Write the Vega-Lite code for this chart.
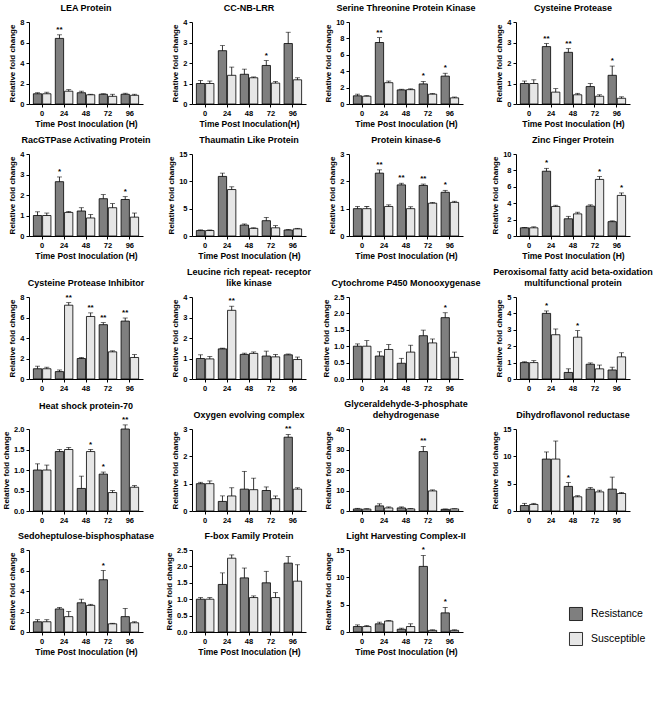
{
"$schema":"https://vega.github.io/schema/vega-lite/v6.json",
"padding":{"left":2,"right":2,"top":4,"bottom":4},
"datasets":{"d":[
{"g":1,"t":"0","s":"Resistance","v":1.0,"hi":1.1},{"g":1,"t":"0","s":"Susceptible","v":1.0,"hi":1.15},{"g":1,"t":"24","s":"Resistance","v":6.4,"hi":6.75,"sig":"**"},{"g":1,"t":"24","s":"Susceptible","v":1.25,"hi":1.4},{"g":1,"t":"48","s":"Resistance","v":1.1,"hi":1.25},{"g":1,"t":"48","s":"Susceptible","v":0.9,"hi":0.95},{"g":1,"t":"72","s":"Resistance","v":0.95,"hi":1.0},{"g":1,"t":"72","s":"Susceptible","v":0.75,"hi":0.95},{"g":1,"t":"96","s":"Resistance","v":0.95,"hi":1.05},{"g":1,"t":"96","s":"Susceptible","v":0.85,"hi":0.95},
{"g":2,"t":"0","s":"Resistance","v":1.0,"hi":1.15},{"g":2,"t":"0","s":"Susceptible","v":1.0,"hi":1.12},{"g":2,"t":"24","s":"Resistance","v":2.6,"hi":2.85},{"g":2,"t":"24","s":"Susceptible","v":1.4,"hi":1.8},{"g":2,"t":"48","s":"Resistance","v":1.45,"hi":1.7},{"g":2,"t":"48","s":"Susceptible","v":1.28,"hi":1.32},{"g":2,"t":"72","s":"Resistance","v":1.88,"hi":2.12,"sig":"*"},{"g":2,"t":"72","s":"Susceptible","v":1.02,"hi":1.1},{"g":2,"t":"96","s":"Resistance","v":2.95,"hi":3.5},{"g":2,"t":"96","s":"Susceptible","v":1.18,"hi":1.28},
{"g":3,"t":"0","s":"Resistance","v":1.0,"hi":1.2},{"g":3,"t":"0","s":"Susceptible","v":0.95,"hi":1.02},{"g":3,"t":"24","s":"Resistance","v":7.5,"hi":8.1,"sig":"**"},{"g":3,"t":"24","s":"Susceptible","v":2.6,"hi":2.8},{"g":3,"t":"48","s":"Resistance","v":1.72,"hi":1.8},{"g":3,"t":"48","s":"Susceptible","v":1.75,"hi":1.85},{"g":3,"t":"72","s":"Resistance","v":2.45,"hi":2.75,"sig":"*"},{"g":3,"t":"72","s":"Susceptible","v":1.2,"hi":1.28},{"g":3,"t":"96","s":"Resistance","v":3.4,"hi":3.75,"sig":"*"},{"g":3,"t":"96","s":"Susceptible","v":0.75,"hi":0.85},
{"g":4,"t":"0","s":"Resistance","v":1.0,"hi":1.12},{"g":4,"t":"0","s":"Susceptible","v":1.0,"hi":1.18},{"g":4,"t":"24","s":"Resistance","v":2.8,"hi":2.95,"sig":"**"},{"g":4,"t":"24","s":"Susceptible","v":0.58,"hi":0.75},{"g":4,"t":"48","s":"Resistance","v":2.52,"hi":2.7,"sig":"**"},{"g":4,"t":"48","s":"Susceptible","v":0.45,"hi":0.52},{"g":4,"t":"72","s":"Resistance","v":0.85,"hi":1.0},{"g":4,"t":"72","s":"Susceptible","v":0.38,"hi":0.45},{"g":4,"t":"96","s":"Resistance","v":1.4,"hi":1.85,"sig":"*"},{"g":4,"t":"96","s":"Susceptible","v":0.28,"hi":0.35},
{"g":5,"t":"0","s":"Resistance","v":1.0,"hi":1.18},{"g":5,"t":"0","s":"Susceptible","v":1.0,"hi":1.12},{"g":5,"t":"24","s":"Resistance","v":2.65,"hi":2.88,"sig":"*"},{"g":5,"t":"24","s":"Susceptible","v":1.15,"hi":1.2},{"g":5,"t":"48","s":"Resistance","v":1.22,"hi":1.38},{"g":5,"t":"48","s":"Susceptible","v":0.88,"hi":1.05},{"g":5,"t":"72","s":"Resistance","v":1.82,"hi":2.02},{"g":5,"t":"72","s":"Susceptible","v":1.38,"hi":1.58},{"g":5,"t":"96","s":"Resistance","v":1.78,"hi":1.92,"sig":"*"},{"g":5,"t":"96","s":"Susceptible","v":0.92,"hi":1.12},
{"g":6,"t":"0","s":"Resistance","v":1.0,"hi":1.12},{"g":6,"t":"0","s":"Susceptible","v":1.0,"hi":1.1},{"g":6,"t":"24","s":"Resistance","v":10.9,"hi":11.5},{"g":6,"t":"24","s":"Susceptible","v":8.5,"hi":9.0},{"g":6,"t":"48","s":"Resistance","v":2.0,"hi":2.2},{"g":6,"t":"48","s":"Susceptible","v":1.4,"hi":1.5},{"g":6,"t":"72","s":"Resistance","v":2.8,"hi":3.4},{"g":6,"t":"72","s":"Susceptible","v":1.5,"hi":1.9},{"g":6,"t":"96","s":"Resistance","v":1.1,"hi":1.2},{"g":6,"t":"96","s":"Susceptible","v":1.3,"hi":1.4},
{"g":7,"t":"0","s":"Resistance","v":1.0,"hi":1.08},{"g":7,"t":"0","s":"Susceptible","v":1.0,"hi":1.08},{"g":7,"t":"24","s":"Resistance","v":2.3,"hi":2.42,"sig":"**"},{"g":7,"t":"24","s":"Susceptible","v":1.08,"hi":1.14},{"g":7,"t":"48","s":"Resistance","v":1.87,"hi":1.93,"sig":"**"},{"g":7,"t":"48","s":"Susceptible","v":1.0,"hi":1.07},{"g":7,"t":"72","s":"Resistance","v":1.85,"hi":1.9,"sig":"**"},{"g":7,"t":"72","s":"Susceptible","v":1.2,"hi":1.23},{"g":7,"t":"96","s":"Resistance","v":1.6,"hi":1.67,"sig":"*"},{"g":7,"t":"96","s":"Susceptible","v":1.23,"hi":1.27},
{"g":8,"t":"0","s":"Resistance","v":1.0,"hi":1.05},{"g":8,"t":"0","s":"Susceptible","v":1.0,"hi":1.12},{"g":8,"t":"24","s":"Resistance","v":7.9,"hi":8.25,"sig":"*"},{"g":8,"t":"24","s":"Susceptible","v":3.6,"hi":3.75},{"g":8,"t":"48","s":"Resistance","v":2.1,"hi":2.4},{"g":8,"t":"48","s":"Susceptible","v":2.7,"hi":2.9},{"g":8,"t":"72","s":"Resistance","v":3.65,"hi":3.8},{"g":8,"t":"72","s":"Susceptible","v":6.9,"hi":7.25,"sig":"*"},{"g":8,"t":"96","s":"Resistance","v":1.75,"hi":1.85},{"g":8,"t":"96","s":"Susceptible","v":4.95,"hi":5.25,"sig":"*"},
{"g":9,"t":"0","s":"Resistance","v":1.0,"hi":1.25},{"g":9,"t":"0","s":"Susceptible","v":1.0,"hi":1.15},{"g":9,"t":"24","s":"Resistance","v":0.72,"hi":0.88},{"g":9,"t":"24","s":"Susceptible","v":7.2,"hi":7.45,"sig":"**"},{"g":9,"t":"48","s":"Resistance","v":2.0,"hi":2.1},{"g":9,"t":"48","s":"Susceptible","v":6.1,"hi":6.45,"sig":"**"},{"g":9,"t":"72","s":"Resistance","v":5.3,"hi":5.5,"sig":"**"},{"g":9,"t":"72","s":"Susceptible","v":2.65,"hi":2.75},{"g":9,"t":"96","s":"Resistance","v":5.65,"hi":5.95,"sig":"**"},{"g":9,"t":"96","s":"Susceptible","v":2.1,"hi":2.38},
{"g":10,"t":"0","s":"Resistance","v":1.0,"hi":1.18},{"g":10,"t":"0","s":"Susceptible","v":0.98,"hi":1.1},{"g":10,"t":"24","s":"Resistance","v":1.47,"hi":1.5},{"g":10,"t":"24","s":"Susceptible","v":3.35,"hi":3.55,"sig":"**"},{"g":10,"t":"48","s":"Resistance","v":1.2,"hi":1.26},{"g":10,"t":"48","s":"Susceptible","v":1.25,"hi":1.32},{"g":10,"t":"72","s":"Resistance","v":1.12,"hi":1.36},{"g":10,"t":"72","s":"Susceptible","v":1.08,"hi":1.2},{"g":10,"t":"96","s":"Resistance","v":1.18,"hi":1.22},{"g":10,"t":"96","s":"Susceptible","v":0.95,"hi":1.07},
{"g":11,"t":"0","s":"Resistance","v":1.0,"hi":1.07},{"g":11,"t":"0","s":"Susceptible","v":1.0,"hi":1.17},{"g":11,"t":"24","s":"Resistance","v":0.7,"hi":0.83},{"g":11,"t":"24","s":"Susceptible","v":0.9,"hi":1.05},{"g":11,"t":"48","s":"Resistance","v":0.48,"hi":0.63},{"g":11,"t":"48","s":"Susceptible","v":0.82,"hi":1.03},{"g":11,"t":"72","s":"Resistance","v":1.32,"hi":1.49},{"g":11,"t":"72","s":"Susceptible","v":1.1,"hi":1.22},{"g":11,"t":"96","s":"Resistance","v":1.87,"hi":2.02,"sig":"*"},{"g":11,"t":"96","s":"Susceptible","v":0.66,"hi":0.82},
{"g":12,"t":"0","s":"Resistance","v":1.0,"hi":1.05},{"g":12,"t":"0","s":"Susceptible","v":1.0,"hi":1.12},{"g":12,"t":"24","s":"Resistance","v":4.0,"hi":4.15,"sig":"*"},{"g":12,"t":"24","s":"Susceptible","v":2.7,"hi":3.05},{"g":12,"t":"48","s":"Resistance","v":0.4,"hi":0.62},{"g":12,"t":"48","s":"Susceptible","v":2.55,"hi":2.95,"sig":"*"},{"g":12,"t":"72","s":"Resistance","v":0.9,"hi":0.98},{"g":12,"t":"72","s":"Susceptible","v":0.62,"hi":0.85},{"g":12,"t":"96","s":"Resistance","v":0.55,"hi":0.72},{"g":12,"t":"96","s":"Susceptible","v":1.35,"hi":1.6},
{"g":13,"t":"0","s":"Resistance","v":1.0,"hi":1.15},{"g":13,"t":"0","s":"Susceptible","v":1.0,"hi":1.12},{"g":13,"t":"24","s":"Resistance","v":1.45,"hi":1.5},{"g":13,"t":"24","s":"Susceptible","v":1.5,"hi":1.55},{"g":13,"t":"48","s":"Resistance","v":0.55,"hi":0.85},{"g":13,"t":"48","s":"Susceptible","v":1.45,"hi":1.5,"sig":"*"},{"g":13,"t":"72","s":"Resistance","v":0.9,"hi":0.95,"sig":"*"},{"g":13,"t":"72","s":"Susceptible","v":0.45,"hi":0.5},{"g":13,"t":"96","s":"Resistance","v":2.0,"hi":2.1,"sig":"**"},{"g":13,"t":"96","s":"Susceptible","v":0.58,"hi":0.62},
{"g":14,"t":"0","s":"Resistance","v":1.0,"hi":1.05},{"g":14,"t":"0","s":"Susceptible","v":1.0,"hi":1.1},{"g":14,"t":"24","s":"Resistance","v":0.35,"hi":0.55},{"g":14,"t":"24","s":"Susceptible","v":0.55,"hi":0.85},{"g":14,"t":"48","s":"Resistance","v":0.8,"hi":1.45},{"g":14,"t":"48","s":"Susceptible","v":0.78,"hi":1.2},{"g":14,"t":"72","s":"Resistance","v":0.75,"hi":0.88},{"g":14,"t":"72","s":"Susceptible","v":0.45,"hi":0.55},{"g":14,"t":"96","s":"Resistance","v":2.7,"hi":2.8,"sig":"**"},{"g":14,"t":"96","s":"Susceptible","v":0.8,"hi":0.85},
{"g":15,"t":"0","s":"Resistance","v":1.0,"hi":1.3},{"g":15,"t":"0","s":"Susceptible","v":0.9,"hi":1.1},{"g":15,"t":"24","s":"Resistance","v":2.5,"hi":3.5},{"g":15,"t":"24","s":"Susceptible","v":1.5,"hi":2.0},{"g":15,"t":"48","s":"Resistance","v":1.5,"hi":2.0},{"g":15,"t":"48","s":"Susceptible","v":1.0,"hi":1.2},{"g":15,"t":"72","s":"Resistance","v":29,"hi":31.5,"sig":"**"},{"g":15,"t":"72","s":"Susceptible","v":9.8,"hi":10.3},{"g":15,"t":"96","s":"Resistance","v":0.8,"hi":1.0},{"g":15,"t":"96","s":"Susceptible","v":1.0,"hi":1.1},
{"g":16,"t":"0","s":"Resistance","v":1.0,"hi":1.4},{"g":16,"t":"0","s":"Susceptible","v":1.2,"hi":1.4},{"g":16,"t":"24","s":"Resistance","v":9.5,"hi":10.8},{"g":16,"t":"24","s":"Susceptible","v":9.5,"hi":12.8},{"g":16,"t":"48","s":"Resistance","v":4.5,"hi":5.2,"sig":"*"},{"g":16,"t":"48","s":"Susceptible","v":2.6,"hi":2.8},{"g":16,"t":"72","s":"Resistance","v":4.0,"hi":4.3},{"g":16,"t":"72","s":"Susceptible","v":3.5,"hi":3.8},{"g":16,"t":"96","s":"Resistance","v":4.0,"hi":6.2},{"g":16,"t":"96","s":"Susceptible","v":3.2,"hi":3.4},
{"g":17,"t":"0","s":"Resistance","v":1.0,"hi":1.2},{"g":17,"t":"0","s":"Susceptible","v":1.0,"hi":1.2},{"g":17,"t":"24","s":"Resistance","v":2.25,"hi":2.4},{"g":17,"t":"24","s":"Susceptible","v":1.5,"hi":2.0},{"g":17,"t":"48","s":"Resistance","v":2.85,"hi":3.2},{"g":17,"t":"48","s":"Susceptible","v":2.6,"hi":2.7},{"g":17,"t":"72","s":"Resistance","v":5.1,"hi":6.0,"sig":"*"},{"g":17,"t":"72","s":"Susceptible","v":0.8,"hi":0.85},{"g":17,"t":"96","s":"Resistance","v":1.5,"hi":2.3},{"g":17,"t":"96","s":"Susceptible","v":0.9,"hi":1.0},
{"g":18,"t":"0","s":"Resistance","v":1.0,"hi":1.05},{"g":18,"t":"0","s":"Susceptible","v":1.0,"hi":1.05},{"g":18,"t":"24","s":"Resistance","v":1.45,"hi":1.8},{"g":18,"t":"24","s":"Susceptible","v":2.25,"hi":2.35},{"g":18,"t":"48","s":"Resistance","v":1.65,"hi":1.95},{"g":18,"t":"48","s":"Susceptible","v":1.05,"hi":1.1},{"g":18,"t":"72","s":"Resistance","v":1.5,"hi":1.85},{"g":18,"t":"72","s":"Susceptible","v":1.05,"hi":1.2},{"g":18,"t":"96","s":"Resistance","v":2.1,"hi":2.3},{"g":18,"t":"96","s":"Susceptible","v":1.55,"hi":2.05},
{"g":19,"t":"0","s":"Resistance","v":1.0,"hi":1.3},{"g":19,"t":"0","s":"Susceptible","v":1.0,"hi":1.2},{"g":19,"t":"24","s":"Resistance","v":1.5,"hi":1.8},{"g":19,"t":"24","s":"Susceptible","v":2.0,"hi":2.1},{"g":19,"t":"48","s":"Resistance","v":0.5,"hi":0.7},{"g":19,"t":"48","s":"Susceptible","v":1.0,"hi":1.5},{"g":19,"t":"72","s":"Resistance","v":12,"hi":14,"sig":"*"},{"g":19,"t":"72","s":"Susceptible","v":0.3,"hi":0.4},{"g":19,"t":"96","s":"Resistance","v":3.5,"hi":4.5,"sig":"*"},{"g":19,"t":"96","s":"Susceptible","v":0.3,"hi":0.4}
]},
"data":{"name":"d"},
"columns":4,
"spacing":{"row":8,"column":10},
"concat":[
{"title":{"text":"LEA Protein"},"width":114,"height":82,"transform":[{"filter":"datum.g==1"}],"encoding":{"x":{"field":"t","type":"nominal","title":"Time Post Inoculation (H)"},"xOffset":{"field":"s","type":"nominal"},"y":{"field":"v","type":"quantitative","scale":{"domain":[0,8]},"axis":{"values":[0,2,4,6,8]},"title":"Relative fold change"}},
"layer":[{"mark":{"type":"bar","stroke":"black","strokeWidth":0.8},"encoding":{"color":{"field":"s","type":"nominal","title":null}}},{"mark":{"type":"rule","color":"black","strokeWidth":0.8},"encoding":{"y2":{"field":"hi"}}},{"mark":{"type":"tick","color":"black","thickness":0.8,"size":5},"encoding":{"y":{"field":"hi","type":"quantitative","title":"Relative fold change"}}},{"transform":[{"filter":"datum.sig"}],"mark":{"type":"text","baseline":"bottom","dy":-1,"fontSize":8,"fontWeight":"bold","font":"Liberation Sans"},"encoding":{"y":{"field":"hi","type":"quantitative","title":"Relative fold change"},"text":{"field":"sig"}}}]},
{"title":{"text":"CC-NB-LRR"},"width":114,"height":82,"transform":[{"filter":"datum.g==2"}],"encoding":{"x":{"field":"t","type":"nominal","title":"Time Post Inoculation(H)"},"xOffset":{"field":"s","type":"nominal"},"y":{"field":"v","type":"quantitative","scale":{"domain":[0,4]},"axis":{"values":[0,1,2,3,4]},"title":"Relative fold change"}},
"layer":[{"mark":{"type":"bar","stroke":"black","strokeWidth":0.8},"encoding":{"color":{"field":"s","type":"nominal","title":null}}},{"mark":{"type":"rule","color":"black","strokeWidth":0.8},"encoding":{"y2":{"field":"hi"}}},{"mark":{"type":"tick","color":"black","thickness":0.8,"size":5},"encoding":{"y":{"field":"hi","type":"quantitative","title":"Relative fold change"}}},{"transform":[{"filter":"datum.sig"}],"mark":{"type":"text","baseline":"bottom","dy":-1,"fontSize":8,"fontWeight":"bold","font":"Liberation Sans"},"encoding":{"y":{"field":"hi","type":"quantitative","title":"Relative fold change"},"text":{"field":"sig"}}}]},
{"title":{"text":"Serine Threonine Protein Kinase"},"width":114,"height":82,"transform":[{"filter":"datum.g==3"}],"encoding":{"x":{"field":"t","type":"nominal","title":"Time Post Inoculation (H)"},"xOffset":{"field":"s","type":"nominal"},"y":{"field":"v","type":"quantitative","scale":{"domain":[0,10]},"axis":{"values":[0,2,4,6,8,10]},"title":"Relative fold change"}},
"layer":[{"mark":{"type":"bar","stroke":"black","strokeWidth":0.8},"encoding":{"color":{"field":"s","type":"nominal","title":null}}},{"mark":{"type":"rule","color":"black","strokeWidth":0.8},"encoding":{"y2":{"field":"hi"}}},{"mark":{"type":"tick","color":"black","thickness":0.8,"size":5},"encoding":{"y":{"field":"hi","type":"quantitative","title":"Relative fold change"}}},{"transform":[{"filter":"datum.sig"}],"mark":{"type":"text","baseline":"bottom","dy":-1,"fontSize":8,"fontWeight":"bold","font":"Liberation Sans"},"encoding":{"y":{"field":"hi","type":"quantitative","title":"Relative fold change"},"text":{"field":"sig"}}}]},
{"title":{"text":"Cysteine Protease"},"width":114,"height":82,"transform":[{"filter":"datum.g==4"}],"encoding":{"x":{"field":"t","type":"nominal","title":"Time Post Inoculation (H)"},"xOffset":{"field":"s","type":"nominal"},"y":{"field":"v","type":"quantitative","scale":{"domain":[0,4]},"axis":{"values":[0,1,2,3,4]},"title":"Relative fold change"}},
"layer":[{"mark":{"type":"bar","stroke":"black","strokeWidth":0.8},"encoding":{"color":{"field":"s","type":"nominal","title":null}}},{"mark":{"type":"rule","color":"black","strokeWidth":0.8},"encoding":{"y2":{"field":"hi"}}},{"mark":{"type":"tick","color":"black","thickness":0.8,"size":5},"encoding":{"y":{"field":"hi","type":"quantitative","title":"Relative fold change"}}},{"transform":[{"filter":"datum.sig"}],"mark":{"type":"text","baseline":"bottom","dy":-1,"fontSize":8,"fontWeight":"bold","font":"Liberation Sans"},"encoding":{"y":{"field":"hi","type":"quantitative","title":"Relative fold change"},"text":{"field":"sig"}}}]},
{"title":{"text":"RacGTPase Activating Protein"},"width":114,"height":82,"transform":[{"filter":"datum.g==5"}],"encoding":{"x":{"field":"t","type":"nominal","title":"Time Post Inoculation (H)"},"xOffset":{"field":"s","type":"nominal"},"y":{"field":"v","type":"quantitative","scale":{"domain":[0,4]},"axis":{"values":[0,1,2,3,4]},"title":"Relative fold change"}},
"layer":[{"mark":{"type":"bar","stroke":"black","strokeWidth":0.8},"encoding":{"color":{"field":"s","type":"nominal","title":null}}},{"mark":{"type":"rule","color":"black","strokeWidth":0.8},"encoding":{"y2":{"field":"hi"}}},{"mark":{"type":"tick","color":"black","thickness":0.8,"size":5},"encoding":{"y":{"field":"hi","type":"quantitative","title":"Relative fold change"}}},{"transform":[{"filter":"datum.sig"}],"mark":{"type":"text","baseline":"bottom","dy":-1,"fontSize":8,"fontWeight":"bold","font":"Liberation Sans"},"encoding":{"y":{"field":"hi","type":"quantitative","title":"Relative fold change"},"text":{"field":"sig"}}}]},
{"title":{"text":"Thaumatin Like Protein"},"width":114,"height":82,"transform":[{"filter":"datum.g==6"}],"encoding":{"x":{"field":"t","type":"nominal","title":"Time Post Inoculation (H)"},"xOffset":{"field":"s","type":"nominal"},"y":{"field":"v","type":"quantitative","scale":{"domain":[0,15]},"axis":{"values":[0,5,10,15]},"title":"Relative fold change"}},
"layer":[{"mark":{"type":"bar","stroke":"black","strokeWidth":0.8},"encoding":{"color":{"field":"s","type":"nominal","title":null}}},{"mark":{"type":"rule","color":"black","strokeWidth":0.8},"encoding":{"y2":{"field":"hi"}}},{"mark":{"type":"tick","color":"black","thickness":0.8,"size":5},"encoding":{"y":{"field":"hi","type":"quantitative","title":"Relative fold change"}}},{"transform":[{"filter":"datum.sig"}],"mark":{"type":"text","baseline":"bottom","dy":-1,"fontSize":8,"fontWeight":"bold","font":"Liberation Sans"},"encoding":{"y":{"field":"hi","type":"quantitative","title":"Relative fold change"},"text":{"field":"sig"}}}]},
{"title":{"text":"Protein kinase-6"},"width":114,"height":82,"transform":[{"filter":"datum.g==7"}],"encoding":{"x":{"field":"t","type":"nominal","title":"Time Post Inoculation (H)"},"xOffset":{"field":"s","type":"nominal"},"y":{"field":"v","type":"quantitative","scale":{"domain":[0,3]},"axis":{"values":[0,1,2,3]},"title":"Relative fold change"}},
"layer":[{"mark":{"type":"bar","stroke":"black","strokeWidth":0.8},"encoding":{"color":{"field":"s","type":"nominal","title":null}}},{"mark":{"type":"rule","color":"black","strokeWidth":0.8},"encoding":{"y2":{"field":"hi"}}},{"mark":{"type":"tick","color":"black","thickness":0.8,"size":5},"encoding":{"y":{"field":"hi","type":"quantitative","title":"Relative fold change"}}},{"transform":[{"filter":"datum.sig"}],"mark":{"type":"text","baseline":"bottom","dy":-1,"fontSize":8,"fontWeight":"bold","font":"Liberation Sans"},"encoding":{"y":{"field":"hi","type":"quantitative","title":"Relative fold change"},"text":{"field":"sig"}}}]},
{"title":{"text":"Zinc Finger Protein"},"width":114,"height":82,"transform":[{"filter":"datum.g==8"}],"encoding":{"x":{"field":"t","type":"nominal","title":"Time Post Inoculation (H)"},"xOffset":{"field":"s","type":"nominal"},"y":{"field":"v","type":"quantitative","scale":{"domain":[0,10]},"axis":{"values":[0,2,4,6,8,10]},"title":"Relative fold change"}},
"layer":[{"mark":{"type":"bar","stroke":"black","strokeWidth":0.8},"encoding":{"color":{"field":"s","type":"nominal","title":null}}},{"mark":{"type":"rule","color":"black","strokeWidth":0.8},"encoding":{"y2":{"field":"hi"}}},{"mark":{"type":"tick","color":"black","thickness":0.8,"size":5},"encoding":{"y":{"field":"hi","type":"quantitative","title":"Relative fold change"}}},{"transform":[{"filter":"datum.sig"}],"mark":{"type":"text","baseline":"bottom","dy":-1,"fontSize":8,"fontWeight":"bold","font":"Liberation Sans"},"encoding":{"y":{"field":"hi","type":"quantitative","title":"Relative fold change"},"text":{"field":"sig"}}}]},
{"title":{"text":"Cysteine Protease Inhibitor"},"width":114,"height":82,"transform":[{"filter":"datum.g==9"}],"encoding":{"x":{"field":"t","type":"nominal","title":null},"xOffset":{"field":"s","type":"nominal"},"y":{"field":"v","type":"quantitative","scale":{"domain":[0,8]},"axis":{"values":[0,2,4,6,8]},"title":"Relative fold change"}},
"layer":[{"mark":{"type":"bar","stroke":"black","strokeWidth":0.8},"encoding":{"color":{"field":"s","type":"nominal","title":null}}},{"mark":{"type":"rule","color":"black","strokeWidth":0.8},"encoding":{"y2":{"field":"hi"}}},{"mark":{"type":"tick","color":"black","thickness":0.8,"size":5},"encoding":{"y":{"field":"hi","type":"quantitative","title":"Relative fold change"}}},{"transform":[{"filter":"datum.sig"}],"mark":{"type":"text","baseline":"bottom","dy":-1,"fontSize":8,"fontWeight":"bold","font":"Liberation Sans"},"encoding":{"y":{"field":"hi","type":"quantitative","title":"Relative fold change"},"text":{"field":"sig"}}}]},
{"title":{"text":["Leucine rich repeat- receptor","like kinase"]},"width":114,"height":82,"transform":[{"filter":"datum.g==10"}],"encoding":{"x":{"field":"t","type":"nominal","title":null},"xOffset":{"field":"s","type":"nominal"},"y":{"field":"v","type":"quantitative","scale":{"domain":[0,4]},"axis":{"values":[0,1,2,3,4]},"title":"Relative fold change"}},
"layer":[{"mark":{"type":"bar","stroke":"black","strokeWidth":0.8},"encoding":{"color":{"field":"s","type":"nominal","title":null}}},{"mark":{"type":"rule","color":"black","strokeWidth":0.8},"encoding":{"y2":{"field":"hi"}}},{"mark":{"type":"tick","color":"black","thickness":0.8,"size":5},"encoding":{"y":{"field":"hi","type":"quantitative","title":"Relative fold change"}}},{"transform":[{"filter":"datum.sig"}],"mark":{"type":"text","baseline":"bottom","dy":-1,"fontSize":8,"fontWeight":"bold","font":"Liberation Sans"},"encoding":{"y":{"field":"hi","type":"quantitative","title":"Relative fold change"},"text":{"field":"sig"}}}]},
{"title":{"text":"Cytochrome P450 Monooxygenase"},"width":114,"height":82,"transform":[{"filter":"datum.g==11"}],"encoding":{"x":{"field":"t","type":"nominal","title":null},"xOffset":{"field":"s","type":"nominal"},"y":{"field":"v","type":"quantitative","scale":{"domain":[0,2.5]},"axis":{"values":[0,0.5,1,1.5,2,2.5],"format":".1f"},"title":"Relative fold change"}},
"layer":[{"mark":{"type":"bar","stroke":"black","strokeWidth":0.8},"encoding":{"color":{"field":"s","type":"nominal","title":null}}},{"mark":{"type":"rule","color":"black","strokeWidth":0.8},"encoding":{"y2":{"field":"hi"}}},{"mark":{"type":"tick","color":"black","thickness":0.8,"size":5},"encoding":{"y":{"field":"hi","type":"quantitative","title":"Relative fold change"}}},{"transform":[{"filter":"datum.sig"}],"mark":{"type":"text","baseline":"bottom","dy":-1,"fontSize":8,"fontWeight":"bold","font":"Liberation Sans"},"encoding":{"y":{"field":"hi","type":"quantitative","title":"Relative fold change"},"text":{"field":"sig"}}}]},
{"title":{"text":["Peroxisomal fatty acid beta-oxidation","multifunctional protein"]},"width":114,"height":82,"transform":[{"filter":"datum.g==12"}],"encoding":{"x":{"field":"t","type":"nominal","title":null},"xOffset":{"field":"s","type":"nominal"},"y":{"field":"v","type":"quantitative","scale":{"domain":[0,5]},"axis":{"values":[0,1,2,3,4,5]},"title":"Relative fold change"}},
"layer":[{"mark":{"type":"bar","stroke":"black","strokeWidth":0.8},"encoding":{"color":{"field":"s","type":"nominal","title":null}}},{"mark":{"type":"rule","color":"black","strokeWidth":0.8},"encoding":{"y2":{"field":"hi"}}},{"mark":{"type":"tick","color":"black","thickness":0.8,"size":5},"encoding":{"y":{"field":"hi","type":"quantitative","title":"Relative fold change"}}},{"transform":[{"filter":"datum.sig"}],"mark":{"type":"text","baseline":"bottom","dy":-1,"fontSize":8,"fontWeight":"bold","font":"Liberation Sans"},"encoding":{"y":{"field":"hi","type":"quantitative","title":"Relative fold change"},"text":{"field":"sig"}}}]},
{"title":{"text":"Heat shock protein-70"},"width":114,"height":82,"transform":[{"filter":"datum.g==13"}],"encoding":{"x":{"field":"t","type":"nominal","title":null},"xOffset":{"field":"s","type":"nominal"},"y":{"field":"v","type":"quantitative","scale":{"domain":[0,2]},"axis":{"values":[0,0.5,1,1.5,2],"format":".1f"},"title":"Relative fold change"}},
"layer":[{"mark":{"type":"bar","stroke":"black","strokeWidth":0.8},"encoding":{"color":{"field":"s","type":"nominal","title":null}}},{"mark":{"type":"rule","color":"black","strokeWidth":0.8},"encoding":{"y2":{"field":"hi"}}},{"mark":{"type":"tick","color":"black","thickness":0.8,"size":5},"encoding":{"y":{"field":"hi","type":"quantitative","title":"Relative fold change"}}},{"transform":[{"filter":"datum.sig"}],"mark":{"type":"text","baseline":"bottom","dy":-1,"fontSize":8,"fontWeight":"bold","font":"Liberation Sans"},"encoding":{"y":{"field":"hi","type":"quantitative","title":"Relative fold change"},"text":{"field":"sig"}}}]},
{"title":{"text":"Oxygen evolving complex"},"width":114,"height":82,"transform":[{"filter":"datum.g==14"}],"encoding":{"x":{"field":"t","type":"nominal","title":null},"xOffset":{"field":"s","type":"nominal"},"y":{"field":"v","type":"quantitative","scale":{"domain":[0,3]},"axis":{"values":[0,1,2,3]},"title":"Relative fold change"}},
"layer":[{"mark":{"type":"bar","stroke":"black","strokeWidth":0.8},"encoding":{"color":{"field":"s","type":"nominal","title":null}}},{"mark":{"type":"rule","color":"black","strokeWidth":0.8},"encoding":{"y2":{"field":"hi"}}},{"mark":{"type":"tick","color":"black","thickness":0.8,"size":5},"encoding":{"y":{"field":"hi","type":"quantitative","title":"Relative fold change"}}},{"transform":[{"filter":"datum.sig"}],"mark":{"type":"text","baseline":"bottom","dy":-1,"fontSize":8,"fontWeight":"bold","font":"Liberation Sans"},"encoding":{"y":{"field":"hi","type":"quantitative","title":"Relative fold change"},"text":{"field":"sig"}}}]},
{"title":{"text":["Glyceraldehyde-3-phosphate","dehydrogenase"]},"width":114,"height":82,"transform":[{"filter":"datum.g==15"}],"encoding":{"x":{"field":"t","type":"nominal","title":null},"xOffset":{"field":"s","type":"nominal"},"y":{"field":"v","type":"quantitative","scale":{"domain":[0,40]},"axis":{"values":[0,10,20,30,40]},"title":"Relative fold change"}},
"layer":[{"mark":{"type":"bar","stroke":"black","strokeWidth":0.8},"encoding":{"color":{"field":"s","type":"nominal","title":null}}},{"mark":{"type":"rule","color":"black","strokeWidth":0.8},"encoding":{"y2":{"field":"hi"}}},{"mark":{"type":"tick","color":"black","thickness":0.8,"size":5},"encoding":{"y":{"field":"hi","type":"quantitative","title":"Relative fold change"}}},{"transform":[{"filter":"datum.sig"}],"mark":{"type":"text","baseline":"bottom","dy":-1,"fontSize":8,"fontWeight":"bold","font":"Liberation Sans"},"encoding":{"y":{"field":"hi","type":"quantitative","title":"Relative fold change"},"text":{"field":"sig"}}}]},
{"title":{"text":"Dihydroflavonol reductase"},"width":114,"height":82,"transform":[{"filter":"datum.g==16"}],"encoding":{"x":{"field":"t","type":"nominal","title":null},"xOffset":{"field":"s","type":"nominal"},"y":{"field":"v","type":"quantitative","scale":{"domain":[0,15]},"axis":{"values":[0,5,10,15]},"title":"Relative fold change"}},
"layer":[{"mark":{"type":"bar","stroke":"black","strokeWidth":0.8},"encoding":{"color":{"field":"s","type":"nominal","title":null}}},{"mark":{"type":"rule","color":"black","strokeWidth":0.8},"encoding":{"y2":{"field":"hi"}}},{"mark":{"type":"tick","color":"black","thickness":0.8,"size":5},"encoding":{"y":{"field":"hi","type":"quantitative","title":"Relative fold change"}}},{"transform":[{"filter":"datum.sig"}],"mark":{"type":"text","baseline":"bottom","dy":-1,"fontSize":8,"fontWeight":"bold","font":"Liberation Sans"},"encoding":{"y":{"field":"hi","type":"quantitative","title":"Relative fold change"},"text":{"field":"sig"}}}]},
{"title":{"text":"Sedoheptulose-bisphosphatase"},"width":114,"height":82,"transform":[{"filter":"datum.g==17"}],"encoding":{"x":{"field":"t","type":"nominal","title":"Time Post Inoculation (H)"},"xOffset":{"field":"s","type":"nominal"},"y":{"field":"v","type":"quantitative","scale":{"domain":[0,8]},"axis":{"values":[0,2,4,6,8]},"title":"Relative fold change"}},
"layer":[{"mark":{"type":"bar","stroke":"black","strokeWidth":0.8},"encoding":{"color":{"field":"s","type":"nominal","title":null}}},{"mark":{"type":"rule","color":"black","strokeWidth":0.8},"encoding":{"y2":{"field":"hi"}}},{"mark":{"type":"tick","color":"black","thickness":0.8,"size":5},"encoding":{"y":{"field":"hi","type":"quantitative","title":"Relative fold change"}}},{"transform":[{"filter":"datum.sig"}],"mark":{"type":"text","baseline":"bottom","dy":-1,"fontSize":8,"fontWeight":"bold","font":"Liberation Sans"},"encoding":{"y":{"field":"hi","type":"quantitative","title":"Relative fold change"},"text":{"field":"sig"}}}]},
{"title":{"text":"F-box Family Protein"},"width":114,"height":82,"transform":[{"filter":"datum.g==18"}],"encoding":{"x":{"field":"t","type":"nominal","title":"Time Post Inoculation (H)"},"xOffset":{"field":"s","type":"nominal"},"y":{"field":"v","type":"quantitative","scale":{"domain":[0,2.5]},"axis":{"values":[0,0.5,1,1.5,2,2.5],"format":".1f"},"title":"Relative fold change"}},
"layer":[{"mark":{"type":"bar","stroke":"black","strokeWidth":0.8},"encoding":{"color":{"field":"s","type":"nominal","title":null}}},{"mark":{"type":"rule","color":"black","strokeWidth":0.8},"encoding":{"y2":{"field":"hi"}}},{"mark":{"type":"tick","color":"black","thickness":0.8,"size":5},"encoding":{"y":{"field":"hi","type":"quantitative","title":"Relative fold change"}}},{"transform":[{"filter":"datum.sig"}],"mark":{"type":"text","baseline":"bottom","dy":-1,"fontSize":8,"fontWeight":"bold","font":"Liberation Sans"},"encoding":{"y":{"field":"hi","type":"quantitative","title":"Relative fold change"},"text":{"field":"sig"}}}]},
{"title":{"text":"Light Harvesting Complex-II"},"width":114,"height":82,"transform":[{"filter":"datum.g==19"}],"encoding":{"x":{"field":"t","type":"nominal","title":"Time Post Inoculation (H)"},"xOffset":{"field":"s","type":"nominal"},"y":{"field":"v","type":"quantitative","scale":{"domain":[0,15]},"axis":{"values":[0,5,10,15]},"title":"Relative fold change"}},
"layer":[{"mark":{"type":"bar","stroke":"black","strokeWidth":0.8},"encoding":{"color":{"field":"s","type":"nominal","title":null}}},{"mark":{"type":"rule","color":"black","strokeWidth":0.8},"encoding":{"y2":{"field":"hi"}}},{"mark":{"type":"tick","color":"black","thickness":0.8,"size":5},"encoding":{"y":{"field":"hi","type":"quantitative","title":"Relative fold change"}}},{"transform":[{"filter":"datum.sig"}],"mark":{"type":"text","baseline":"bottom","dy":-1,"fontSize":8,"fontWeight":"bold","font":"Liberation Sans"},"encoding":{"y":{"field":"hi","type":"quantitative","title":"Relative fold change"},"text":{"field":"sig"}}}]}
],
"config":{
"view":{"stroke":null},
"font":"Liberation Sans",
"title":{"font":"Liberation Sans","fontSize":9,"fontWeight":"bold","color":"black","offset":5,"lineHeight":11},
"axis":{"grid":false,"domainColor":"black","tickColor":"black","labelColor":"black","titleColor":"black","labelFont":"Liberation Sans","titleFont":"Liberation Sans","labelFontWeight":"bold","titleFontWeight":"bold","labelFontSize":7.5,"titleFontSize":8.5,"tickSize":3,"labelPadding":2,"titlePadding":3,"domainWidth":1,"tickWidth":1},
"axisX":{"labelAngle":0},
"axisY":{"titleFontSize":8},
"scale":{"bandPaddingInner":0.3,"bandPaddingOuter":0.2,"offsetBandPaddingInner":0.1},
"range":{"category":["#7f7f7f","#e6e6e6"]},
"legend":{"orient":"none","legendX":540,"legendY":585,"symbolType":"square","symbolSize":170,"symbolStrokeColor":"black","symbolStrokeWidth":0.8,"labelFontSize":10.5,"labelFont":"Liberation Sans","labelColor":"black","rowPadding":7,"labelOffset":8}
}
}
